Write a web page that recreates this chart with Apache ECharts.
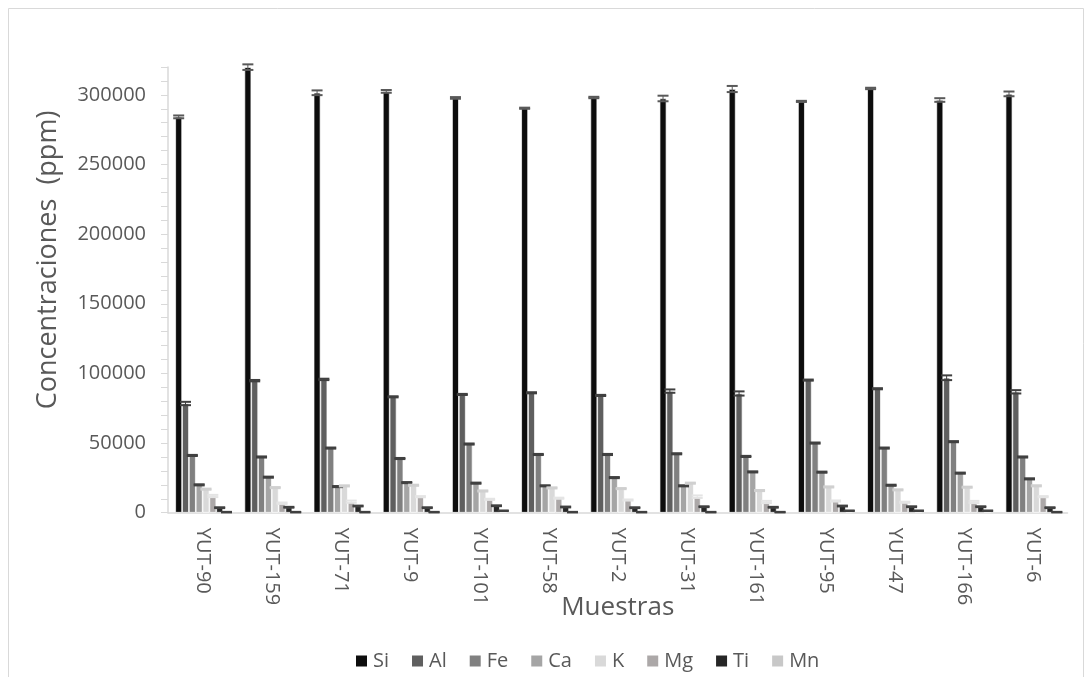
<!DOCTYPE html>
<html>
<head>
<meta charset="utf-8">
<script src="https://cdn.jsdelivr.net/npm/echarts@6/dist/echarts.min.js"></script>
<style>
  html, body { margin: 0; padding: 0; background: #ffffff; }
  #chart { width: 1092px; height: 677px; }
</style>
</head>
<body>
<div id="chart"></div>
<script>
// Muestras (sample IDs)
const categories = ['YUT-90', 'YUT-159', 'YUT-71', 'YUT-9', 'YUT-101', 'YUT-58', 'YUT-2',
  'YUT-31', 'YUT-161', 'YUT-95', 'YUT-47', 'YUT-166', 'YUT-6'];

// Element concentrations (ppm) and their error (±) per sample
const si    = [284200, 319900, 301500, 302500, 297800, 290400, 298100, 297400, 304200, 295300, 304600, 296300, 300700];
const siErr = [1000, 2000, 1700, 1000, 600, 400, 500, 2000, 2200, 400, 500, 1300, 1700];
const al    = [78400, 94800, 95700, 83200, 84900, 86100, 84200, 87300, 85600, 95200, 89000, 96900, 86800];
const alErr = [1200, 500, 500, 400, 400, 400, 400, 1200, 1500, 400, 400, 1700, 1200];
const fe    = [41100, 40000, 46400, 38900, 49300, 41800, 41800, 42300, 40400, 50000, 46400, 51000, 40000];
const feErr = [400, 400, 400, 400, 400, 400, 400, 400, 400, 400, 400, 400, 400];
const ca    = [20000, 25500, 18750, 21600, 21200, 19300, 25200, 19300, 29300, 29100, 19700, 28400, 24300];
const caErr = [400, 400, 400, 400, 400, 400, 400, 400, 400, 400, 400, 400, 400];
const k     = [16900, 18000, 19250, 19700, 15600, 17800, 17300, 21200, 15900, 18500, 16400, 18300, 19300];
const kErr  = [400, 400, 400, 400, 400, 400, 400, 400, 400, 400, 400, 400, 400];
const mg    = [12000, 6800, 7900, 11500, 9600, 10400, 9100, 11500, 7700, 8400, 7500, 7700, 11500];
const mgErr = [800, 500, 800, 400, 400, 400, 400, 900, 800, 400, 400, 800, 400];
const ti    = [3600, 3900, 4800, 3600, 5000, 4100, 3600, 4300, 3900, 4800, 4300, 4300, 3600];
const tiErr = [300, 300, 300, 300, 300, 300, 300, 300, 300, 300, 300, 300, 300];
const mn    = [400, 400, 400, 400, 1400, 400, 400, 400, 400, 1400, 1400, 1400, 400];
const mnErr = [200, 200, 200, 200, 200, 200, 200, 200, 200, 200, 200, 200, 200];

const elements = ['Si', 'Al', 'Fe', 'Ca', 'K', 'Mg', 'Ti', 'Mn'];
const values   = [si, al, fe, ca, k, mg, ti, mn];
const errors   = [siErr, alErr, feErr, caErr, kErr, mgErr, tiErr, mnErr];
const barColors = ['#0d0d0d', '#5f5f5f', '#808080', '#a5a5a5', '#d9d9d9', '#aca8a8', '#262626', '#c8c8c8'];
const errColors = ['#595959', '#404040', '#404040', '#404040', '#d0d0d0', '#e4e4e4', '#404040', '#404040'];

const FONT = 'Open Sans';
const CAT_GAP = 0.21;   // share of each category left empty around the bar group
const TEXT = '#595959';

const chart = echarts.init(document.getElementById('chart'), null, { renderer: 'canvas' });

const barSeries = elements.map((name, i) => ({
  name: name,
  type: 'bar',
  data: values[i],
  barGap: '0%',
  barCategoryGap: (CAT_GAP * 100) + '%',
  itemStyle: { color: barColors[i], borderColor: '#ffffff', borderWidth: 0.7 },
  emphasis: { disabled: true },
  z: 2
}));

// error bars drawn on top of each bar, positioned from the category band width
const errSeries = elements.map((name, i) => ({
  name: name + ' error',
  type: 'custom',
  z: 5,
  silent: true,
  data: values[i].map((v, j) => [j, v, errors[i][j]]),
  encode: { x: 0, y: 1 },
  renderItem: function (params, api) {
    const cat = api.value(0), v = api.value(1), e = api.value(2);
    const band = api.size([1, 0])[0];
    const bw = band * (1 - CAT_GAP) / elements.length;
    const x = api.coord([cat, v])[0] + (i - (elements.length - 1) / 2) * bw;
    const yHi = api.coord([cat, v + e])[1];
    const yLo = api.coord([cat, Math.max(0, v - e)])[1];
    const half = 5.5;
    const st = { stroke: errColors[i], lineWidth: 2 };
    return {
      type: 'group',
      children: [
        { type: 'line', shape: { x1: x, y1: yHi, x2: x, y2: yLo }, style: { stroke: errColors[i], lineWidth: 1 } },
        { type: 'line', shape: { x1: x - half, y1: yHi, x2: x + half, y2: yHi }, style: st },
        { type: 'line', shape: { x1: x - half, y1: yLo, x2: x + half, y2: yLo }, style: st }
      ]
    };
  }
}));

chart.setOption({
  backgroundColor: '#ffffff',
  animation: false,
  textStyle: { fontFamily: FONT },
  grid: { left: 168, right: 24.5, top: 67, bottom: 164.3, containLabel: false },
  legend: {
    data: elements,
    top: 646,
    left: 349,
    icon: 'rect',
    itemWidth: 13,
    itemHeight: 13,
    itemGap: 21,
    textStyle: { color: TEXT, fontSize: 20, fontFamily: FONT },
    selectedMode: false
  },
  xAxis: {
    type: 'category',
    data: categories,
    name: 'Muestras',
    nameLocation: 'middle',
    nameGap: 82,
    nameMoveOverlap: false,
    nameTextStyle: { color: TEXT, fontSize: 26, fontFamily: FONT },
    axisLine: { lineStyle: { color: '#d9d9d9', width: 1.5 } },
    axisTick: { show: false },
    axisLabel: { rotate: -90, color: TEXT, fontSize: 20, fontFamily: FONT, margin: 15, interval: 0 },
    splitLine: { show: false }
  },
  yAxis: {
    type: 'value',
    min: 0,
    max: 320000,
    interval: 10000,
    axisLine: { show: true, lineStyle: { color: '#d9d9d9', width: 1.5 } },
    axisTick: { show: true, length: 7, lineStyle: { color: '#d9d9d9', width: 1 } },
    axisLabel: {
      color: TEXT, fontSize: 20, fontFamily: FONT, margin: 22,
      formatter: v => (v % 50000 === 0 ? String(v) : '')
    },
    splitLine: { show: false }
  },
  graphic: [
    {
      type: 'rect',
      shape: { x: 8.5, y: 8.5, width: 1075, height: 700 },
      style: { fill: 'none', stroke: '#d9d9d9', lineWidth: 1 },
      silent: true, z: -1
    },
    {
      type: 'text',
      x: 48, y: 260,
      rotation: Math.PI / 2,
      style: {
        text: 'Concentraciones  (ppm)',
        fill: TEXT, fontSize: 27, fontFamily: FONT,
        align: 'center', verticalAlign: 'middle'
      },
      silent: true
    }
  ],
  series: barSeries.concat(errSeries)
});
</script>
</body>
</html>
